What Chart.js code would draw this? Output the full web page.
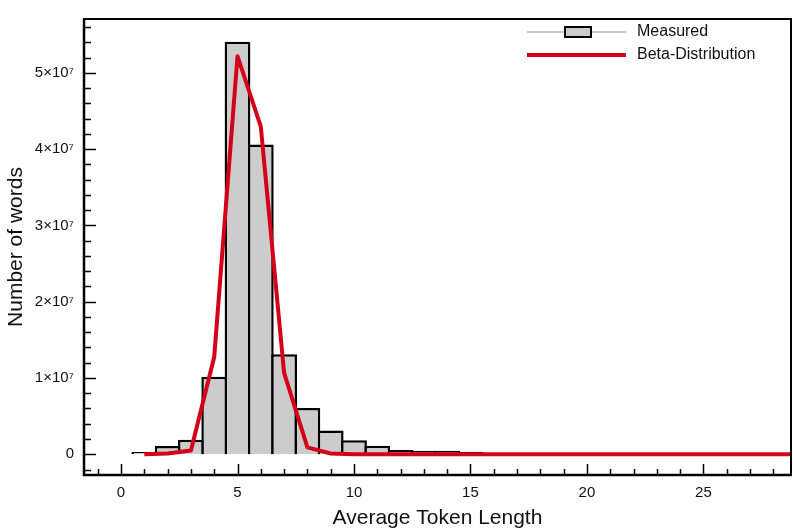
<!DOCTYPE html>
<html><head><meta charset="utf-8">
<script src="https://cdn.jsdelivr.net/npm/chart.js@4.4.1/dist/chart.umd.min.js"></script>
<style>html,body{margin:0;padding:0;background:#fff;}#wrap{width:793px;height:531px;position:relative;}</style>
</head><body><div id="wrap"><canvas id="c" width="793" height="531"></canvas></div>
<script>
// ---- data ----
const binCenters     = [1, 2, 3, 4, 5, 6, 7, 8, 9, 10, 11, 12, 13, 14, 15];
const measuredCounts = [0.3e6, 1.07e6, 1.9e6, 10.16e6, 54.1e6, 40.6e6, 13.1e6, 6.08e6, 3.1e6, 1.84e6, 1.1e6, 0.56e6, 0.47e6, 0.45e6, 0.34e6];
const betaX          = [1, 2, 3, 4, 5, 6, 7, 8, 9, 10, 11, 12, 13, 14, 15, 16, 17, 18, 19, 20, 21, 22, 23, 24, 25, 26, 27, 28, 29, 30];
const betaY          = [0, 0.1e6, 0.5e6, 12.75e6, 52.2e6, 42.96e6, 10.67e6, 0.9e6, 0.1e6, 0, 0, 0, 0, 0, 0, 0, 0, 0, 0, 0, 0, 0, 0, 0, 0, 0, 0, 0, 0, 0];
const xTickValues    = [0, 5, 10, 15, 20, 25];
const yTickValues    = [0, 1e7, 2e7, 3e7, 4e7, 5e7];
const yTickLabels    = ['0', '1×10⁷', '2×10⁷', '3×10⁷', '4×10⁷', '5×10⁷'];
const seriesNames    = ['Measured', 'Beta-Distribution'];
const xTitle         = 'Average Token Length';
const yTitle         = 'Number of words';

const FONT = "'Liberation Sans', Arial, Helvetica, sans-serif";
const RED = '#d4001a';
const BARFILL = '#cccccc';

const decor = {
  id: 'decor',
  afterDraw(chart) {
    const ctx = chart.ctx, a = chart.chartArea;
    const xs = chart.scales.x, ys = chart.scales.y;
    ctx.save();
    ctx.strokeStyle = '#000';
    // x ticks (inside)
    ctx.lineWidth = 1.5;
    for (let v = Math.ceil(xs.min); v <= Math.floor(xs.max); v++) {
      const px = Math.round(xs.getPixelForValue(v)) + 0.5;
      const len = (v % 5 === 0) ? 11 : 6;
      ctx.beginPath(); ctx.moveTo(px, a.bottom); ctx.lineTo(px, a.bottom - len); ctx.stroke();
    }
    // y ticks (inside)
    const step = 2e6;
    for (let v = Math.ceil(ys.min / step) * step; v <= ys.max; v += step) {
      const py = Math.round(ys.getPixelForValue(v)) + 0.5;
      const len = (Math.round(v / step) % 5 === 0) ? 12 : 7;
      ctx.beginPath(); ctx.moveTo(a.left, py); ctx.lineTo(a.left + len, py); ctx.stroke();
    }
    // frame
    ctx.lineWidth = 2;
    ctx.strokeRect(a.left, a.top, a.right - a.left, a.bottom - a.top);
    ctx.lineWidth = 2.5;
    ctx.beginPath(); ctx.moveTo(a.left, a.top); ctx.lineTo(a.left, a.bottom); ctx.lineTo(a.right, a.bottom); ctx.stroke();

    // legend
    const lx0 = 527, lx1 = 626, tx = 637;
    const y1 = 32, y2 = 55;
    ctx.lineWidth = 2; ctx.strokeStyle = '#c8c8c8';
    ctx.beginPath(); ctx.moveTo(lx0, y1); ctx.lineTo(lx1, y1); ctx.stroke();
    ctx.fillStyle = BARFILL; ctx.fillRect(565, 27, 26, 10);
    ctx.strokeStyle = '#000'; ctx.lineWidth = 2; ctx.strokeRect(565, 27, 26, 10);
    ctx.strokeStyle = RED; ctx.lineWidth = 4;
    ctx.beginPath(); ctx.moveTo(lx0, y2); ctx.lineTo(lx1, y2); ctx.stroke();
    ctx.fillStyle = '#111'; ctx.font = '16px ' + FONT; ctx.textBaseline = 'middle'; ctx.textAlign = 'left';
    ctx.fillText(seriesNames[0], tx, y1);
    ctx.fillText(seriesNames[1], tx, y2);
    ctx.restore();
  }
};

new Chart(document.getElementById('c'), {
  type: 'bar',
  data: {
    datasets: [
      {
        type: 'line',
        label: seriesNames[1],
        data: betaX.map((x, i) => ({x: x, y: betaY[i]})),
        borderColor: RED, borderWidth: 4, pointRadius: 0, tension: 0,
        borderJoinStyle: 'round', fill: false, order: 1
      },
      {
        type: 'bar',
        label: seriesNames[0],
        data: binCenters.map((x, i) => ({x: x, y: measuredCounts[i]})),
        backgroundColor: BARFILL, borderColor: '#000', borderWidth: 2.5,
        barPercentage: 1, categoryPercentage: 1.107, borderSkipped: 'start', order: 2
      }
    ]
  },
  options: {
    responsive: false, animation: false, devicePixelRatio: 1,
    layout: {padding: {top: 6, right: 2, left: 0, bottom: 0}},
    plugins: {legend: {display: false}, tooltip: {enabled: false}},
    scales: {
      x: {
        type: 'linear', min: -1.59, max: 28.76, offset: false,
        grid: {display: false, drawTicks: false, offset: false}, border: {display: false},
        afterBuildTicks: s => { s.ticks = xTickValues.map(v => ({value: v})); },
        afterFit: s => { s.height = 56; },
        ticks: {padding: 9, color: '#111', font: {family: FONT, size: 15}, maxRotation: 0},
        title: {display: true, text: xTitle, color: '#111', font: {family: FONT, size: 21}, padding: {top: 0, bottom: 0}}
      },
      y: {
        type: 'linear', min: -2.72e6, max: 57.07e6,
        grid: {display: false, drawTicks: false}, border: {display: false},
        afterBuildTicks: s => { s.ticks = yTickValues.map(v => ({value: v})); },
        afterFit: s => { s.width = 84; },
        ticks: {padding: 10, color: '#111', font: {family: FONT, size: 15},
          callback: (v) => { const i = yTickValues.indexOf(v); return i >= 0 ? yTickLabels[i] : ''; }},
        title: {display: true, text: yTitle, color: '#111', font: {family: FONT, size: 21}, padding: {top: 4, bottom: 0}}
      }
    }
  },
  plugins: [decor]
});
</script></body></html>
